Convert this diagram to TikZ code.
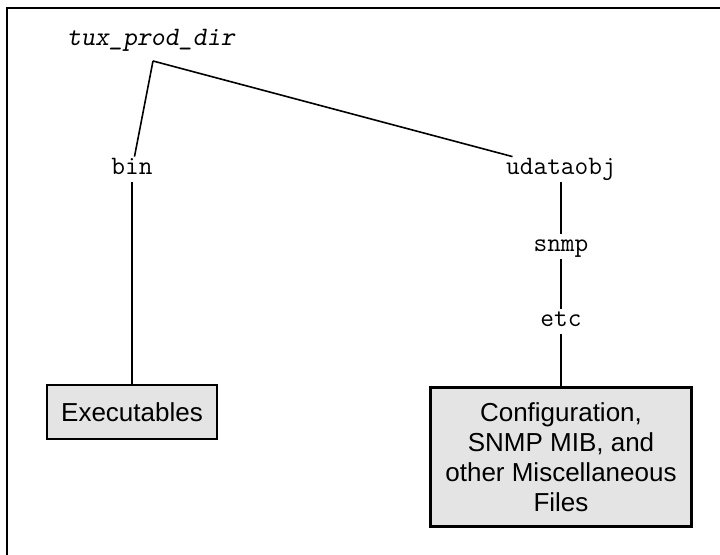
\documentclass[tikz,border=0pt]{standalone}
\usepackage{fontspec}
\setmainfont{Liberation Sans}
\definecolor{boxgray}{HTML}{E4E4E4}
\begin{document}
\begin{tikzpicture}[x=0.5pt,y=-0.5pt,
        dir/.style={font=\ttfamily\fontsize{13.3}{15}\selectfont,text height=8pt,text depth=2.5pt,inner sep=1pt,anchor=base},
        files/.style={draw,line width=1.4pt,fill=boxgray,font=\fontsize{13}{15}\selectfont,align=center},
        branch/.style={line width=0.8pt}]
                \useasboundingbox (0,0) rectangle (720,555);
                %% frame
                \draw[line width=1.3pt] (7,570) -- (7,8) -- (730,8);
                %% directories
                \node[dir,font=\ttfamily\slshape\fontsize{13.3}{15}\selectfont] (prod) at (151,46) {tux\_prod\_dir};
                \coordinate (fork) at (153,61);
                \node[dir] (bin) at (132,175) {bin};
                \node[dir] (udata) at (561,175) {udataobj};
                \node[dir] (snmp) at (561,252) {snmp};
                \node[dir] (etc) at (561,327) {etc};
                %% files
                \node[files,minimum width=85pt,minimum height=27pt] (exe) at (132,412) {Executables};
                \node[files,minimum width=130.5pt,minimum height=69.5pt] (cfg) at (561,457) {Configuration,\\SNMP MIB, and\\other Miscellaneous\\Files};
                %% tree
                \draw[branch] (fork) -- (bin);
                \draw[branch] (fork) -- (udata);
                \draw[branch] (bin) -- (exe);
                \draw[branch] (udata) -- (snmp);
                \draw[branch] (snmp) -- (etc);
                \draw[branch] (etc) -- (cfg);
            \end{tikzpicture}
\end{document}
